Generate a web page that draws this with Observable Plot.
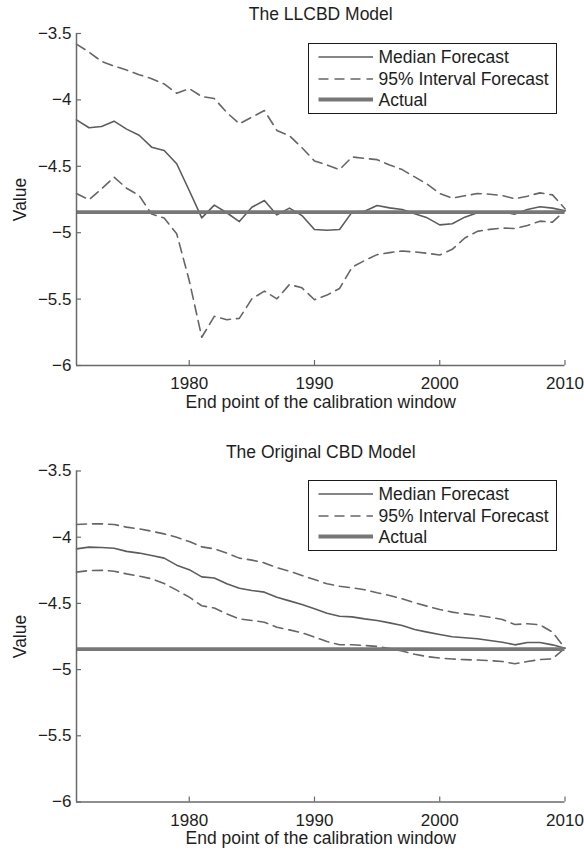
<!DOCTYPE html>
<html>
<head>
<meta charset="utf-8">
<script src="https://cdn.jsdelivr.net/npm/d3@7"></script>
<script src="https://cdn.jsdelivr.net/npm/@observablehq/plot@0.6"></script>
<style>
  html, body { margin: 0; padding: 0; background: #fff; }
  #page { position: relative; width: 584px; height: 851px; font-family: "Liberation Sans", Arial, Helvetica, sans-serif; }
  .panel { position: absolute; left: 0; }
  .legend { position: absolute; left: 307.5px; width: 249px; height: 71px; box-sizing: border-box;
            border: 1.5px solid #1a1a1a; background: #fff; }
  .legend svg { display: block; overflow: visible; }
</style>
</head>
<body>
<div id="page"></div>
<script>
// End point of the calibration window
const years = [1971, 1972, 1973, 1974, 1975, 1976, 1977, 1978, 1979, 1980,
               1981, 1982, 1983, 1984, 1985, 1986, 1987, 1988, 1989, 1990,
               1991, 1992, 1993, 1994, 1995, 1996, 1997, 1998, 1999, 2000,
               2001, 2002, 2003, 2004, 2005, 2006, 2007, 2008, 2009, 2010];

// LLCBD model forecasts
const llcbdMedian = [-4.150, -4.210, -4.200, -4.160, -4.220, -4.266, -4.356, -4.381, -4.481, -4.682,
                     -4.888, -4.792, -4.850, -4.916, -4.808, -4.758, -4.866, -4.815, -4.871, -4.976,
                     -4.981, -4.976, -4.845, -4.838, -4.795, -4.813, -4.825, -4.858, -4.888, -4.941,
                     -4.933, -4.883, -4.850, -4.843, -4.843, -4.860, -4.825, -4.805, -4.815, -4.835];
const llcbdUpper  = [-3.580, -3.640, -3.710, -3.745, -3.775, -3.810, -3.840, -3.880, -3.950, -3.915,
                     -3.975, -3.990, -4.095, -4.180, -4.130, -4.080, -4.230, -4.270, -4.360, -4.460,
                     -4.490, -4.525, -4.430, -4.440, -4.450, -4.490, -4.525, -4.580, -4.635, -4.705,
                     -4.740, -4.722, -4.705, -4.710, -4.720, -4.745, -4.725, -4.700, -4.715, -4.820];
const llcbdLower  = [-4.705, -4.752, -4.670, -4.582, -4.665, -4.720, -4.860, -4.890, -5.008, -5.360,
                     -5.787, -5.630, -5.655, -5.645, -5.498, -5.440, -5.498, -5.390, -5.415, -5.505,
                     -5.470, -5.420, -5.260, -5.210, -5.165, -5.150, -5.138, -5.145, -5.155, -5.168,
                     -5.125, -5.040, -4.990, -4.975, -4.965, -4.968, -4.946, -4.913, -4.921, -4.833];

// Original CBD model forecasts
const cbdMedian = [-4.088, -4.075, -4.078, -4.083, -4.107, -4.120, -4.138, -4.158, -4.211, -4.245,
                   -4.300, -4.308, -4.352, -4.385, -4.402, -4.415, -4.453, -4.481, -4.508, -4.541,
                   -4.574, -4.597, -4.602, -4.617, -4.629, -4.647, -4.667, -4.697, -4.717, -4.735,
                   -4.752, -4.760, -4.767, -4.780, -4.793, -4.813, -4.795, -4.795, -4.813, -4.838];
const cbdUpper  = [-3.904, -3.899, -3.899, -3.904, -3.924, -3.937, -3.955, -3.975, -4.000, -4.033,
                   -4.073, -4.088, -4.120, -4.158, -4.173, -4.194, -4.230, -4.257, -4.289, -4.320,
                   -4.352, -4.370, -4.382, -4.397, -4.420, -4.440, -4.465, -4.495, -4.521, -4.546,
                   -4.566, -4.579, -4.591, -4.604, -4.622, -4.659, -4.654, -4.662, -4.717, -4.838];
const cbdLower  = [-4.264, -4.252, -4.250, -4.257, -4.277, -4.294, -4.314, -4.350, -4.400, -4.453,
                   -4.518, -4.535, -4.579, -4.617, -4.629, -4.642, -4.680, -4.700, -4.722, -4.755,
                   -4.788, -4.812, -4.812, -4.818, -4.825, -4.840, -4.860, -4.884, -4.902, -4.913,
                   -4.920, -4.925, -4.928, -4.932, -4.939, -4.956, -4.939, -4.924, -4.919, -4.838];

// Realised value
const llcbdActual = [-4.845];
const cbdActual = [-4.845];

// Axis ticks and labels
const xTicks = [1980, 1990, 2000, 2010];
const yTicks = [-6, -5.5, -5, -4.5, -4, -3.5];
const yTickLabels = ["\u22126", "\u22125.5", "\u22125", "\u22124.5", "\u22124", "\u22123.5"];
const panelTitles = ["The LLCBD Model", "The Original CBD Model"];
const xLabel = "End point of the calibration window";
const yLabel = "Value";
const legendLabels = ["Median Forecast", "95% Interval Forecast", "Actual"];

const yLabelOf = new Map(yTicks.map((t, i) => [t, yTickLabels[i]]));

const medianStyle = {stroke: "#5c5c5c", strokeWidth: 1.6};
const intervalStyle = {stroke: "#666666", strokeWidth: 1.6, strokeDasharray: "10,6"};
const actualStyle = {stroke: "#777777", strokeWidth: 3.8};
const axisColor = "#6a6a6a";

const marginLeft = 76, marginRight = 19.5;
const frameWidth = 584 - marginLeft - marginRight;

function panel(title, median, upper, lower, actual, height, marginTop, marginBottom) {
  const rows = years.map((year, i) => ({year, median: median[i], upper: upper[i], lower: lower[i]}));
  const frameHeight = height - marginTop - marginBottom;
  return Plot.plot({
    width: 584,
    height,
    marginTop,
    marginBottom,
    marginLeft,
    marginRight,
    style: {fontFamily: "'Liberation Sans', Arial, Helvetica, sans-serif", fontSize: "17px", color: "#1e1e1e", background: "#fff", overflow: "visible"},
    x: {domain: [1971, 2010]},
    y: {domain: [-6, -3.5]},
    marks: [
      Plot.line(rows, {x: "year", y: "median", ...medianStyle}),
      Plot.line(rows, {x: "year", y: "upper", ...intervalStyle}),
      Plot.line(rows, {x: "year", y: "lower", ...intervalStyle}),
      Plot.ruleY(actual, {y: d => d, ...actualStyle}),
      // left and bottom axis lines
      Plot.ruleX([1971], {x: d => d, stroke: axisColor, strokeWidth: 1.5}),
      Plot.ruleY([-6], {y: d => d, stroke: axisColor, strokeWidth: 1.5}),
      // inward-pointing ticks
      Plot.tickX(xTicks, {x: d => d, insetTop: frameHeight - 5, stroke: axisColor, strokeWidth: 1.2}),
      Plot.tickY(yTicks, {y: d => d, insetRight: frameWidth - 5, stroke: axisColor, strokeWidth: 1.2}),
      Plot.axisX(xTicks, {tickSize: 0, tickPadding: 11.5, tickFormat: d => String(d), label: null}),
      Plot.axisY(yTicks, {tickSize: 0, tickPadding: 5, tickFormat: d => yLabelOf.get(d), label: null}),
      Plot.text([title], {text: d => d, frameAnchor: "top", dy: -13.5, lineAnchor: "bottom", fontSize: 17.5, fill: "#1e1e1e"}),
      Plot.text([xLabel], {text: d => d, frameAnchor: "bottom", dy: 42, lineAnchor: "bottom", fontSize: 17.5, fill: "#1e1e1e"}),
      Plot.text([yLabel], {text: d => d, frameAnchor: "left", dx: -51, rotate: -90, lineAnchor: "bottom", textAnchor: "middle", fontSize: 17.5, fill: "#1e1e1e"})
    ]
  });
}

function legend(offsetTop) {
  const div = document.createElement("div");
  div.className = "legend";
  div.style.top = offsetTop + "px";
  const ns = "http://www.w3.org/2000/svg";
  const svg = document.createElementNS(ns, "svg");
  svg.setAttribute("width", 246);
  svg.setAttribute("height", 68);
  const rowsY = [13, 35, 55.5];
  const styles = [medianStyle, intervalStyle, actualStyle];
  legendLabels.forEach((label, i) => {
    const line = document.createElementNS(ns, "line");
    line.setAttribute("x1", 9.5);
    line.setAttribute("x2", 64);
    line.setAttribute("y1", rowsY[i]);
    line.setAttribute("y2", rowsY[i]);
    line.setAttribute("stroke", styles[i].stroke);
    line.setAttribute("stroke-width", styles[i].strokeWidth);
    if (styles[i].strokeDasharray) line.setAttribute("stroke-dasharray", styles[i].strokeDasharray);
    svg.appendChild(line);
    const text = document.createElementNS(ns, "text");
    text.setAttribute("x", 69.5);
    text.setAttribute("y", rowsY[i]);
    text.setAttribute("dy", "0.35em");
    text.setAttribute("font-size", "17.5px");
    text.setAttribute("font-family", "'Liberation Sans', Arial, Helvetica, sans-serif");
    text.setAttribute("fill", "#1e1e1e");
    text.textContent = label;
    svg.appendChild(text);
  });
  div.appendChild(svg);
  return div;
}

const page = document.getElementById("page");

const llcbdChart = panel(panelTitles[0], llcbdMedian, llcbdUpper, llcbdLower, llcbdActual, 425, 33, 60);
llcbdChart.classList.add("panel");
llcbdChart.style.top = "0px";
page.appendChild(llcbdChart);
page.appendChild(legend(42.5));

const cbdChart = panel(panelTitles[1], cbdMedian, cbdUpper, cbdLower, cbdActual, 426, 45.5, 49.5);
cbdChart.classList.add("panel");
cbdChart.style.top = "425px";
page.appendChild(cbdChart);
page.appendChild(legend(480));
</script>
</body>
</html>
